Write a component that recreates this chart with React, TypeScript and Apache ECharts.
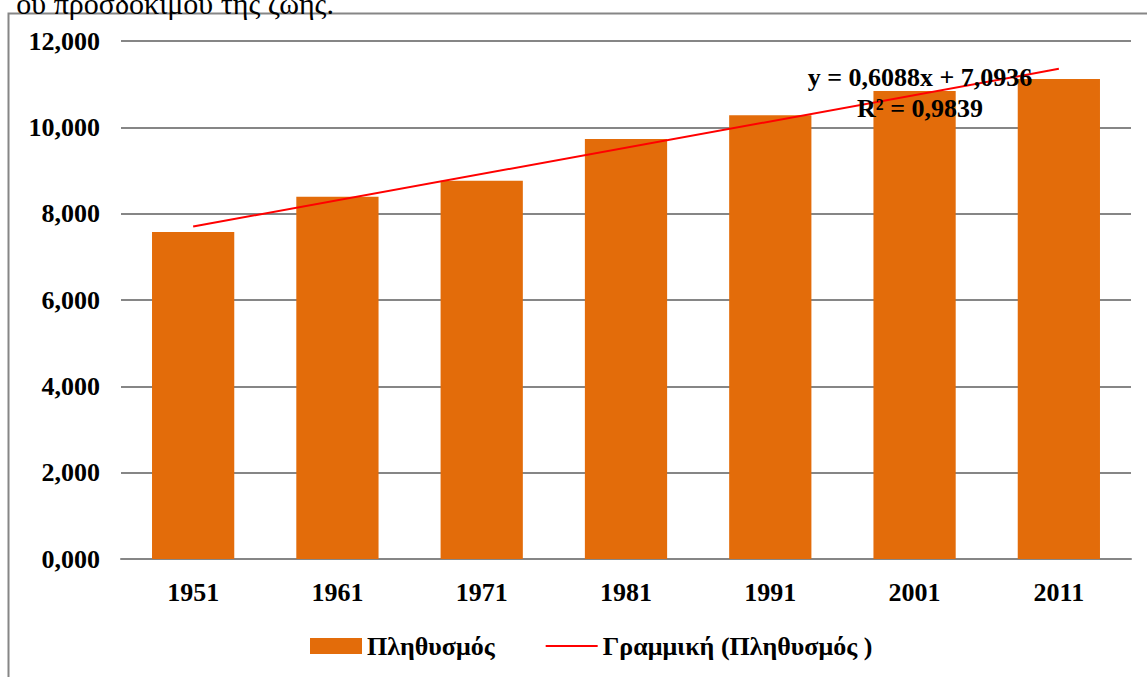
import React, { useEffect, useRef } from "react";
import * as echarts from "echarts";

const categories = ["1951", "1961", "1971", "1981", "1991", "2001", "2011"];
const population = [7.575, 8.39, 8.76, 9.73, 10.28, 10.84, 11.12];
const trendline = [7.702, null, null, null, null, null, 11.355];
const yTicks = [0, 2, 4, 6, 8, 10, 12];
const barName = "Πληθυσμός";
const trendName = "Γραμμική (Πληθυσμός )";
const equationText = "y = 0,6088x + 7,0936";
const r2Text = "R² = 0,9839";
const captionText = "ου προσδόκιμου της ζωής.";

const FONT = "'Liberation Serif', 'Times New Roman', serif";

export default function App() {
  const ref = useRef<HTMLDivElement>(null);
  useEffect(() => {
    if (!ref.current) return;
    const chart = echarts.init(ref.current, null, { renderer: "svg" });
    chart.setOption({
      animation: false,
      backgroundColor: "#ffffff",
      textStyle: { fontFamily: FONT },
      grid: { left: 121, right: 16, top: 41, bottom: 118, containLabel: false },
      xAxis: {
        type: "category",
        data: categories,
        axisLine: { show: true, lineStyle: { color: "#868686", width: 2 } },
        axisTick: { show: false },
        axisLabel: {
          color: "#000",
          fontFamily: FONT,
          fontWeight: "bold",
          fontSize: 26,
          margin: 20,
        },
      },
      yAxis: {
        type: "value",
        min: yTicks[0],
        max: yTicks[yTicks.length - 1],
        interval: 2,
        axisLine: { show: false },
        axisTick: { show: false },
        splitLine: { show: true, lineStyle: { color: "#868686", width: 2 } },
        axisLabel: {
          color: "#000",
          fontFamily: FONT,
          fontWeight: "bold",
          fontSize: 26,
          margin: 21,
          formatter: (v: number) => v.toFixed(3).replace(".", ","),
        },
      },
      legend: {
        left: 305,
        top: 628,
        itemGap: 50,
        itemWidth: 52,
        itemHeight: 16,
        textStyle: { color: "#000", fontFamily: FONT, fontWeight: "bold", fontSize: 26 },
        data: [
          { name: barName, icon: "rect" },
          { name: trendName, itemStyle: { opacity: 0 } },
        ],
      },
      series: [
        {
          name: barName,
          type: "bar",
          data: population,
          barWidth: "57%",
          itemStyle: { color: "#E36C0A" },
        },
        {
          name: trendName,
          type: "line",
          data: trendline,
          connectNulls: true,
          symbol: "none",
          showSymbol: false,
          lineStyle: { color: "#FF0000", width: 2 },
          itemStyle: { color: "#FF0000" },
          z: 5,
        },
      ],
      graphic: [
        {
          type: "polyline",
          shape: { points: [[8.5, 677], [8.5, 13.5], [1147, 13.5]] },
          style: { stroke: "#868686", lineWidth: 2, fill: null },
        },
        {
          type: "text",
          x: 334,
          y: -12,
          style: {
            text: captionText,
            align: "right",
            verticalAlign: "top",
            fontFamily: FONT,
            fontSize: 30,
            fill: "#000",
          },
        },
        {
          type: "text",
          x: 920,
          y: 77,
          z: 10,
          style: {
            text: equationText,
            align: "center",
            verticalAlign: "middle",
            fontFamily: FONT,
            fontWeight: "bold",
            fontSize: 26,
            fill: "#000",
          },
        },
        {
          type: "text",
          x: 920,
          y: 108,
          z: 10,
          style: {
            text: r2Text,
            align: "center",
            verticalAlign: "middle",
            fontFamily: FONT,
            fontWeight: "bold",
            fontSize: 26,
            fill: "#000",
          },
        },
      ],
    });
    return () => chart.dispose();
  }, []);
  return (
    <div
      ref={ref}
      style={{ position: "fixed", left: 0, top: 0, width: 1147, height: 677 }}
    />
  );
}
